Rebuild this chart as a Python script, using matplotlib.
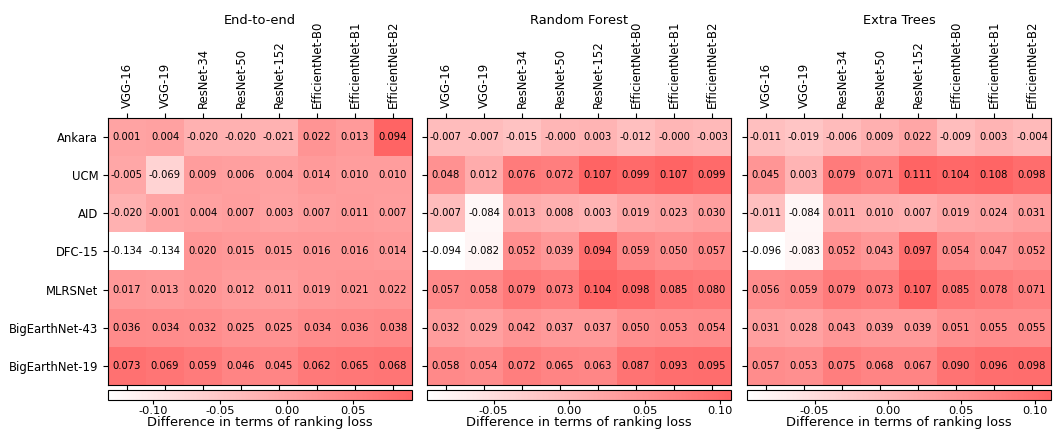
import numpy as np
import matplotlib
matplotlib.use("Agg")
import matplotlib.pyplot as plt
from matplotlib.colors import LinearSegmentedColormap

models = ["VGG-16", "VGG-19", "ResNet-34", "ResNet-50", "ResNet-152",
          "EfficientNet-B0", "EfficientNet-B1", "EfficientNet-B2"]
datasets = ["Ankara", "UCM", "AID", "DFC-15", "MLRSNet", "BigEarthNet-43", "BigEarthNet-19"]
titles = ["End-to-end", "Random Forest", "Extra Trees"]

end_to_end = [
    [0.001, 0.004, -0.020, -0.020, -0.021, 0.022, 0.013, 0.094],
    [-0.005, -0.069, 0.009, 0.006, 0.004, 0.014, 0.010, 0.010],
    [-0.020, -0.001, 0.004, 0.007, 0.003, 0.007, 0.011, 0.007],
    [-0.134, -0.134, 0.020, 0.015, 0.015, 0.016, 0.016, 0.014],
    [0.017, 0.013, 0.020, 0.012, 0.011, 0.019, 0.021, 0.022],
    [0.036, 0.034, 0.032, 0.025, 0.025, 0.034, 0.036, 0.038],
    [0.073, 0.069, 0.059, 0.046, 0.045, 0.062, 0.065, 0.068],
]
random_forest = [
    [-0.007, -0.007, -0.015, -0.000, 0.003, -0.012, -0.000, -0.003],
    [0.048, 0.012, 0.076, 0.072, 0.107, 0.099, 0.107, 0.099],
    [-0.007, -0.084, 0.013, 0.008, 0.003, 0.019, 0.023, 0.030],
    [-0.094, -0.082, 0.052, 0.039, 0.094, 0.059, 0.050, 0.057],
    [0.057, 0.058, 0.079, 0.073, 0.104, 0.098, 0.085, 0.080],
    [0.032, 0.029, 0.042, 0.037, 0.037, 0.050, 0.053, 0.054],
    [0.058, 0.054, 0.072, 0.065, 0.063, 0.087, 0.093, 0.095],
]
extra_trees = [
    [-0.011, -0.019, -0.006, 0.009, 0.022, -0.009, 0.003, -0.004],
    [0.045, 0.003, 0.079, 0.071, 0.111, 0.104, 0.108, 0.098],
    [-0.011, -0.084, 0.011, 0.010, 0.007, 0.019, 0.024, 0.031],
    [-0.096, -0.083, 0.052, 0.043, 0.097, 0.054, 0.047, 0.052],
    [0.056, 0.059, 0.079, 0.073, 0.107, 0.085, 0.078, 0.071],
    [0.031, 0.028, 0.043, 0.039, 0.039, 0.051, 0.055, 0.055],
    [0.057, 0.053, 0.075, 0.068, 0.067, 0.090, 0.096, 0.098],
]
cbar_ticks = [-0.10, -0.05, 0.0, 0.05, 0.10]

cmap = LinearSegmentedColormap.from_list("wr", ["#ffffff", "#ff6464"])

W, H = 1063, 432
fig = plt.figure(figsize=(W / 100, H / 100), dpi=100)

lefts = [108, 427, 747]
for i, (data, title) in enumerate(zip([end_to_end, random_forest, extra_trees], titles)):
    arr = np.array(data)
    ax = fig.add_axes([lefts[i] / W, (H - 385) / H, 304 / W, 267 / H])
    cax = fig.add_axes([lefts[i] / W, (H - 400) / H, 304 / W, 10 / H])
    im = ax.imshow(arr, cmap=cmap, aspect="auto", vmin=arr.min(), vmax=arr.max())

    for r in range(arr.shape[0]):
        for c in range(arr.shape[1]):
            ax.text(c, r, f"{arr[r, c]:.3f}", ha="center", va="center", fontsize=7.2)

    ax.set_xticks(range(len(models)))
    ax.set_yticks(range(len(datasets)))
    ax.xaxis.tick_top()
    ax.tick_params(axis="x", top=True, bottom=True, labeltop=True, labelbottom=False)
    ax.set_xticklabels(models, rotation=90, fontsize=8.4)
    if i == 0:
        ax.set_yticklabels(datasets, fontsize=8.4)
    else:
        ax.set_yticklabels([])
    fig.text((lefts[i] + 152) / W, (H - 20) / H, title, ha="center", va="center", fontsize=9.4)

    cb = fig.colorbar(im, cax=cax, orientation="horizontal")
    ticks = [t for t in cbar_ticks if arr.min() <= t <= arr.max()]
    cb.set_ticks(ticks)
    cb.ax.set_xticklabels([f"{t:.2f}" for t in ticks], fontsize=8.2)
    cb.ax.tick_params(pad=1.5, length=3)
    cb.set_label("Difference in terms of ranking loss", fontsize=9.4, labelpad=0)

fig.savefig("out.png", dpi=100)
